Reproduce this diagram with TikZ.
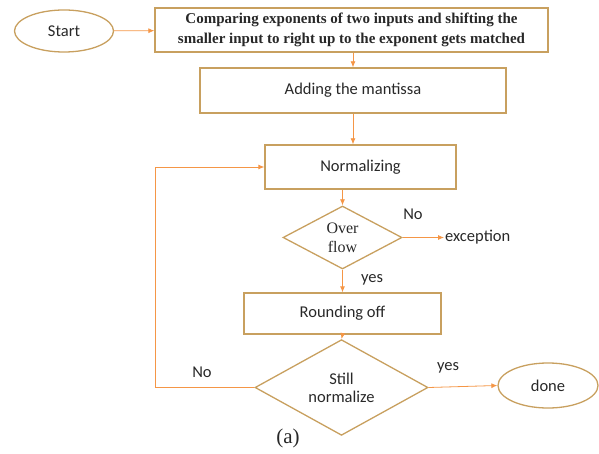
\documentclass[tikz,border=0pt]{standalone}
\usepackage{fontspec}
\setmainfont{Carlito}
\newfontfamily\boxserif{Liberation Serif}
\usetikzlibrary{shapes.geometric,arrows.meta}
\definecolor{boxline}{RGB}{200,160,95}
\definecolor{flowline}{RGB}{245,150,70}
\definecolor{txt}{RGB}{40,40,40}
\begin{document}
\begin{tikzpicture}[x=1pt,y=-1pt,font=\fontsize{16.5}{18}\selectfont,text=txt]
        % Styles
        \tikzstyle{terminal}=[ellipse,draw=boxline,line width=1.3pt,inner sep=0pt]
        \tikzstyle{process}=[rectangle,draw=boxline,line width=1.3pt,inner sep=0pt]
        \tikzstyle{decision}=[diamond,draw=boxline,line width=1.3pt,inner sep=0pt,align=center]
        \tikzstyle{flow}=[draw=flowline,thick,-{Latex[length=6pt,width=5pt]}]
        \tikzstyle{side text}=[inner sep=1pt]
        \useasboundingbox (0,0) rectangle (599,454);
        %The graphic
        %boxes
        \node[terminal,minimum width=99pt,minimum height=42pt] (start) at (64,31) {Start};
        \node[process,minimum width=393pt,minimum height=44pt,align=center,
              font=\boxserif\bfseries\fontsize{15}{19.5}\selectfont] (compare) at (351.5,30)
              {Comparing exponents of two inputs and shifting the\\smaller input to right up to the exponent gets matched};
        \node[process,minimum width=306pt,minimum height=45pt] (adding) at (353,90.5) {Adding the mantissa};
        \node[process,minimum width=191pt,minimum height=44pt] (normal) at (360.5,167) {Normalizing};
        \node[decision,minimum width=119pt,minimum height=63pt,
              font=\boxserif\fontsize{16}{19}\selectfont] (over) at (342.5,237.5) {Over\\flow};
        \node[side text,anchor=west] (except) at (444,237.5) {exception};
        \node[process,minimum width=197pt,minimum height=41pt] (round) at (342.5,313.5) {Rounding off};
        \node[decision,minimum width=173pt,minimum height=59pt] (still) at (341.5,387.5) {Still\\normalize};
        \node[terminal,minimum width=100pt,minimum height=45pt] (done) at (548,385.5) {done};
        \coordinate (loop low) at (155,387.5);
        \coordinate (loop high) at (155,167);
        %connectors
        \draw[flow] (start) -- (compare);
        \draw[flow] (compare.south -| adding.north) -- (adding.north);
        \draw[flow] (adding.south) -- (adding.south |- normal.north);
        \draw[flow] (over.north |- normal.south) -- (over.north);
        \draw[flow] (over.east) -- (except.west);
        \draw[flow] (over.south) -- (round.north);
        \draw[flow] (round.south) -- (still.north);
        \draw[flow] (still.east) -- (done.west);
        \draw[flow] (still.west) -- (loop low) -- (loop high) -- (normal.west);
        %labels
        \node[side text] (no over) at (413,214) {No};
        \node[side text] (yes over) at (372,280) {yes};
        \node[side text] (yes still) at (448,368) {yes};
        \node[side text] (no still) at (202,372) {No};
        \node[font=\boxserif\fontsize{21}{23}\selectfont] (caption) at (288,438) {(a)};
\end{tikzpicture}
\end{document}
